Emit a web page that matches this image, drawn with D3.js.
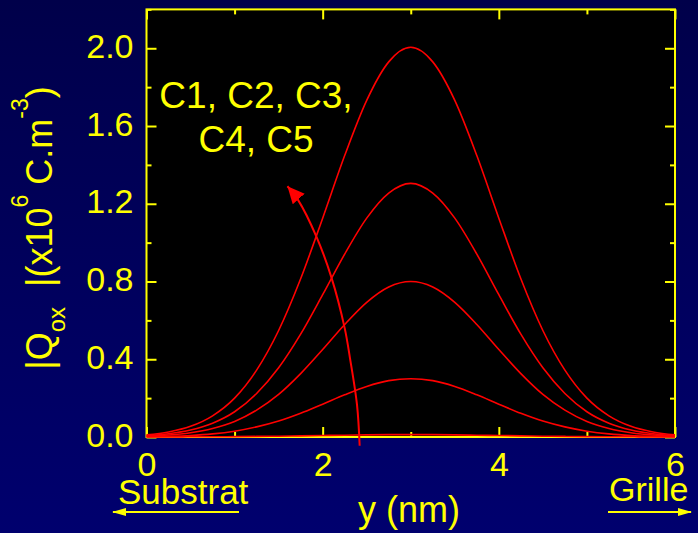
<!DOCTYPE html>
<html>
<head>
<meta charset="utf-8">
<script src="https://cdn.jsdelivr.net/npm/d3@7"></script>
<style>
  body { margin: 0; background: #000050; }
  svg text { font-family: "Liberation Sans", Arial, sans-serif; fill: #ffff00; }
</style>
</head>
<body>
<div id="plot"></div>
<script>
// position along the oxide (nm)
var yPos = [0, 0.25, 0.5, 0.75, 1, 1.25, 1.5, 1.75, 2, 2.25, 2.5, 2.75, 3,
            3.25, 3.5, 3.75, 4, 4.25, 4.5, 4.75, 5, 5.25, 5.5, 5.75, 6]

// |Qox| (x10^6 C.m^-3) for each case
var c1 = [0.000, 0.000, 0.001, 0.001, 0.002, 0.003, 0.004, 0.006, 0.008, 0.009, 0.011, 0.012, 0.012,
          0.012, 0.011, 0.009, 0.008, 0.006, 0.004, 0.003, 0.002, 0.001, 0.001, 0.000, 0.000]
var c2 = [0.002, 0.004, 0.008, 0.016, 0.030, 0.052, 0.082, 0.122, 0.169, 0.217, 0.260, 0.290, 0.300,
          0.290, 0.260, 0.217, 0.169, 0.122, 0.082, 0.052, 0.030, 0.016, 0.008, 0.004, 0.002]
var c3 = [0.005, 0.010, 0.022, 0.044, 0.080, 0.138, 0.219, 0.326, 0.450, 0.579, 0.693, 0.772, 0.800,
          0.772, 0.693, 0.579, 0.450, 0.326, 0.219, 0.138, 0.080, 0.044, 0.022, 0.010, 0.005]
var c4 = [0.007, 0.017, 0.036, 0.071, 0.130, 0.224, 0.356, 0.529, 0.732, 0.941, 1.126, 1.255, 1.305,
          1.255, 1.126, 0.941, 0.732, 0.529, 0.356, 0.224, 0.130, 0.071, 0.036, 0.017, 0.007]
var c5 = [0.011, 0.026, 0.055, 0.109, 0.200, 0.344, 0.548, 0.814, 1.126, 1.448, 1.732, 1.930, 2.005,
          1.930, 1.732, 1.448, 1.126, 0.814, 0.548, 0.344, 0.200, 0.109, 0.055, 0.026, 0.011]
var series = [c1, c2, c3, c4, c5]

// ticks
var xTicks = [0, 2, 4, 6]
var xMinor = [1, 3, 5]
var yTicks = [0, 0.4, 0.8, 1.2, 1.6, 2.0]
var yMinor = [0.2, 0.6, 1.0, 1.4, 1.8, 2.2]

// annotation arrow (data units), C1 -> C5
var arrowX = [2.42, 2.39, 2.31, 2.25, 2.10, 1.93, 1.72, 1.60]
var arrowY = [-0.045, 0.165, 0.406, 0.56, 0.82, 1.03, 1.22, 1.29]

var w = 698, h = 533
var pLeft = 146.5, pRight = 675, pTop = 9.4, pBottom = 437
var yellow = "#ffff00"

var svg = d3.select("#plot").append("svg")
    .attr("width", w).attr("height", h)
    .style("display", "block")

var defs = svg.append("defs")
var grad = defs.append("linearGradient").attr("id", "bg")
    .attr("x1", 0).attr("y1", 0).attr("x2", 0).attr("y2", 1)
grad.append("stop").attr("offset", "0%").attr("stop-color", "#00004a")
grad.append("stop").attr("offset", "100%").attr("stop-color", "#00006e")

// arrow heads
defs.append("marker").attr("id", "redHead")
    .attr("markerUnits", "userSpaceOnUse")
    .attr("markerWidth", 18).attr("markerHeight", 16)
    .attr("refX", 17).attr("refY", 8)
    .attr("orient", "auto")
    .append("path").attr("d", "M0,0 L17,8 L0,16 Z").attr("fill", "#ff0000")
defs.append("marker").attr("id", "yelHead")
    .attr("markerUnits", "userSpaceOnUse")
    .attr("markerWidth", 14).attr("markerHeight", 8)
    .attr("refX", 13).attr("refY", 4)
    .attr("orient", "auto")
    .append("path").attr("d", "M0,0 L14,4 L0,8 Z").attr("fill", yellow)

svg.append("rect").attr("width", w).attr("height", h).attr("fill", "url(#bg)")

// scales
var xScale = d3.scaleLinear().domain([0, 6]).range([pLeft, pRight])
var yScale = d3.scaleLinear().domain([0, 2.2]).range([pBottom, pTop])

// plot area
svg.append("rect")
    .attr("x", pLeft).attr("y", pTop)
    .attr("width", pRight - pLeft).attr("height", pBottom - pTop)
    .attr("fill", "#000000")

// axes with inward ticks (major and minor, mirrored)
function styleAxis(g) {
    g.select(".domain").remove()
    g.selectAll("line").attr("stroke", yellow).attr("stroke-width", 2)
    g.selectAll("text").attr("fill", yellow).style("font-size", "34px")
        .attr("font-family", "'Liberation Sans', Arial, sans-serif")
}

svg.append("g").attr("transform", "translate(0," + pBottom + ")")
    .call(d3.axisBottom(xScale).tickValues(xTicks).tickSize(-10).tickPadding(15)
        .tickFormat(d3.format("d")))
    .call(styleAxis)
svg.append("g").attr("transform", "translate(0," + pBottom + ")")
    .call(d3.axisBottom(xScale).tickValues(xMinor).tickSize(-5).tickFormat(""))
    .call(styleAxis)
svg.append("g").attr("transform", "translate(0," + pTop + ")")
    .call(d3.axisTop(xScale).tickValues(xTicks).tickSize(-10).tickFormat(""))
    .call(styleAxis)
svg.append("g").attr("transform", "translate(0," + pTop + ")")
    .call(d3.axisTop(xScale).tickValues(xMinor).tickSize(-5).tickFormat(""))
    .call(styleAxis)

var yAx = svg.append("g").attr("transform", "translate(" + pLeft + ",0)")
    .call(d3.axisLeft(yScale).tickValues(yTicks).tickSize(-10).tickPadding(13)
        .tickFormat(d3.format(".1f")))
    .call(styleAxis)
yAx.selectAll("text").attr("dy", "0.27em")
svg.append("g").attr("transform", "translate(" + pLeft + ",0)")
    .call(d3.axisLeft(yScale).tickValues(yMinor).tickSize(-5).tickFormat(""))
    .call(styleAxis)
svg.append("g").attr("transform", "translate(" + pRight + ",0)")
    .call(d3.axisRight(yScale).tickValues(yTicks).tickSize(-10).tickFormat(""))
    .call(styleAxis)
svg.append("g").attr("transform", "translate(" + pRight + ",0)")
    .call(d3.axisRight(yScale).tickValues(yMinor).tickSize(-5).tickFormat(""))
    .call(styleAxis)

// frame
svg.append("rect")
    .attr("x", pLeft).attr("y", pTop)
    .attr("width", pRight - pLeft).attr("height", pBottom - pTop)
    .attr("fill", "none").attr("stroke", yellow).attr("stroke-width", 2)

// curves
var line = d3.line()
    .x(function(d, i) { return xScale(yPos[i]) })
    .y(function(d) { return yScale(d) })
    .curve(d3.curveMonotoneX)

svg.selectAll("path.curve")
    .data(series)
    .enter()
    .append("path")
    .attr("class", "curve")
    .attr("d", line)
    .attr("fill", "none")
    .attr("stroke", "#ff0000")
    .attr("stroke-width", 1.6)

// annotation arrow
var arrowLine = d3.line()
    .x(function(d) { return xScale(arrowX[d]) })
    .y(function(d) { return yScale(arrowY[d]) })
    .curve(d3.curveCatmullRom)
svg.append("path")
    .attr("d", arrowLine(d3.range(arrowX.length)))
    .attr("fill", "none")
    .attr("stroke", "#ff0000")
    .attr("stroke-width", 2)
    .attr("marker-end", "url(#redHead)")

svg.append("text").attr("x", 256).attr("y", 108)
    .attr("text-anchor", "middle").style("font-size", "37px")
    .text("C1, C2, C3,")
svg.append("text").attr("x", 256).attr("y", 152)
    .attr("text-anchor", "middle").style("font-size", "37px")
    .text("C4, C5")

// x label and side labels
svg.append("text").attr("x", 409).attr("y", 522)
    .attr("text-anchor", "middle").style("font-size", "36px")
    .text("y (nm)")
svg.append("text").attr("x", 118).attr("y", 504)
    .style("font-size", "35px").text("Substrat")
svg.append("text").attr("x", 609).attr("y", 501)
    .style("font-size", "34px").text("Grille")

svg.append("line")
    .attr("x1", 239).attr("y1", 512).attr("x2", 113).attr("y2", 512)
    .attr("stroke", yellow).attr("stroke-width", 2)
    .attr("marker-end", "url(#yelHead)")
svg.append("line")
    .attr("x1", 608).attr("y1", 512).attr("x2", 691).attr("y2", 512)
    .attr("stroke", yellow).attr("stroke-width", 2)
    .attr("marker-end", "url(#yelHead)")

// y label, rotated, with sub/superscripts
var yt = svg.append("text")
    .attr("transform", "translate(52,228) rotate(-90)")
    .attr("text-anchor", "middle")
    .style("font-size", "36px")
    .style("white-space", "pre")
yt.append("tspan").text("|Q")
yt.append("tspan").attr("dy", 13).style("font-size", "24px").text("ox")
yt.append("tspan").attr("dy", -13).text("  |(x10")
yt.append("tspan").attr("dy", -24).style("font-size", "23px").text("6")
yt.append("tspan").attr("dy", 24).text(" C.m")
yt.append("tspan").attr("dy", -24).style("font-size", "23px").text("-3")
yt.append("tspan").attr("dy", 24).text(")")
</script>
</body>
</html>
